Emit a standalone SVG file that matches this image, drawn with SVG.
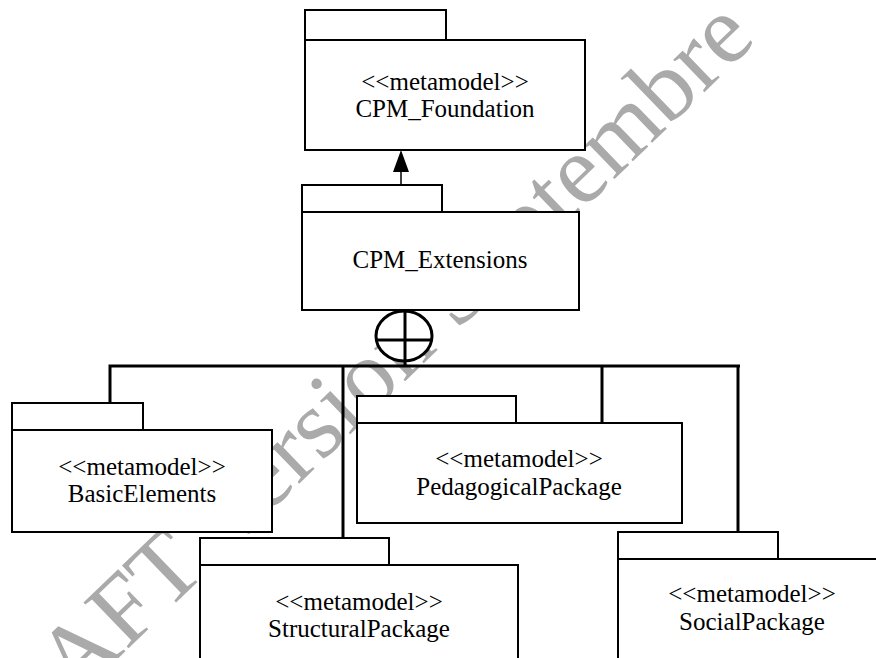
<svg xmlns="http://www.w3.org/2000/svg" width="876" height="658" viewBox="0 0 876 658">
<style>
.box{fill:#fff;stroke:#000;stroke-width:2}
.t{font-family:"Liberation Serif","Times New Roman",serif;font-size:25px;fill:#000;text-anchor:middle}
.bus{fill:none;stroke:#000;stroke-width:3}
.wm{font-family:"Liberation Serif","Times New Roman",serif;font-size:98px;fill:#aaaaaa}
</style>
<rect width="876" height="658" fill="#fff"/>
<g id="watermark" transform="translate(75,700) rotate(-44)">
<text class="wm" x="-136" y="0">DRAFT Version Septembre</text>
</g>
<g id="connectors">
<line x1="401" y1="186" x2="401" y2="172" stroke="#000" stroke-width="1.5"/>
<path d="M393,172 L401,150 L409,172 Z" fill="#000"/>
<polyline class="bus" points="110,403 110,366 740,366"/>
<line class="bus" x1="343" y1="366" x2="343" y2="538"/>
<line class="bus" x1="602" y1="366" x2="602" y2="423"/>
<line class="bus" x1="738" y1="366" x2="738" y2="532"/>
<ellipse cx="404" cy="336" rx="28" ry="25" fill="#fff" stroke="#000" stroke-width="3"/>
<line class="bus" x1="405" y1="310" x2="405" y2="366"/>
<line class="bus" x1="376" y1="340" x2="432" y2="340"/>
</g>
<g id="CPM_Foundation">
<rect class="box" x="305" y="10" width="141" height="30"/>
<rect class="box" x="305" y="40" width="280" height="110"/>
<text class="t" x="445" y="90">&lt;&lt;metamodel&gt;&gt;</text>
<text class="t" x="445" y="117">CPM_Foundation</text>
</g>
<g id="CPM_Extensions">
<rect class="box" x="302" y="185" width="140" height="27"/>
<rect class="box" x="302" y="212" width="277" height="98"/>
<text class="t" x="440" y="268">CPM_Extensions</text>
</g>
<g id="BasicElements">
<rect class="box" x="12" y="403" width="131" height="27"/>
<rect class="box" x="12" y="430" width="260" height="102"/>
<text class="t" x="142" y="475">&lt;&lt;metamodel&gt;&gt;</text>
<text class="t" x="142" y="502">BasicElements</text>
</g>
<g id="PedagogicalPackage">
<rect class="box" x="357" y="396" width="159" height="27"/>
<rect class="box" x="357" y="423" width="325" height="100"/>
<text class="t" x="519" y="467">&lt;&lt;metamodel&gt;&gt;</text>
<text class="t" x="519" y="495">PedagogicalPackage</text>
</g>
<g id="StructuralPackage">
<rect class="box" x="200" y="538" width="189" height="27"/>
<rect class="box" x="200" y="565" width="318" height="110"/>
<text class="t" x="359" y="610">&lt;&lt;metamodel&gt;&gt;</text>
<text class="t" x="359" y="637">StructuralPackage</text>
</g>
<g id="SocialPackage">
<rect class="box" x="618" y="532" width="160" height="27"/>
<rect class="box" x="618" y="559" width="270" height="110"/>
<text class="t" x="752" y="602">&lt;&lt;metamodel&gt;&gt;</text>
<text class="t" x="752" y="630">SocialPackage</text>
</g>
</svg>
